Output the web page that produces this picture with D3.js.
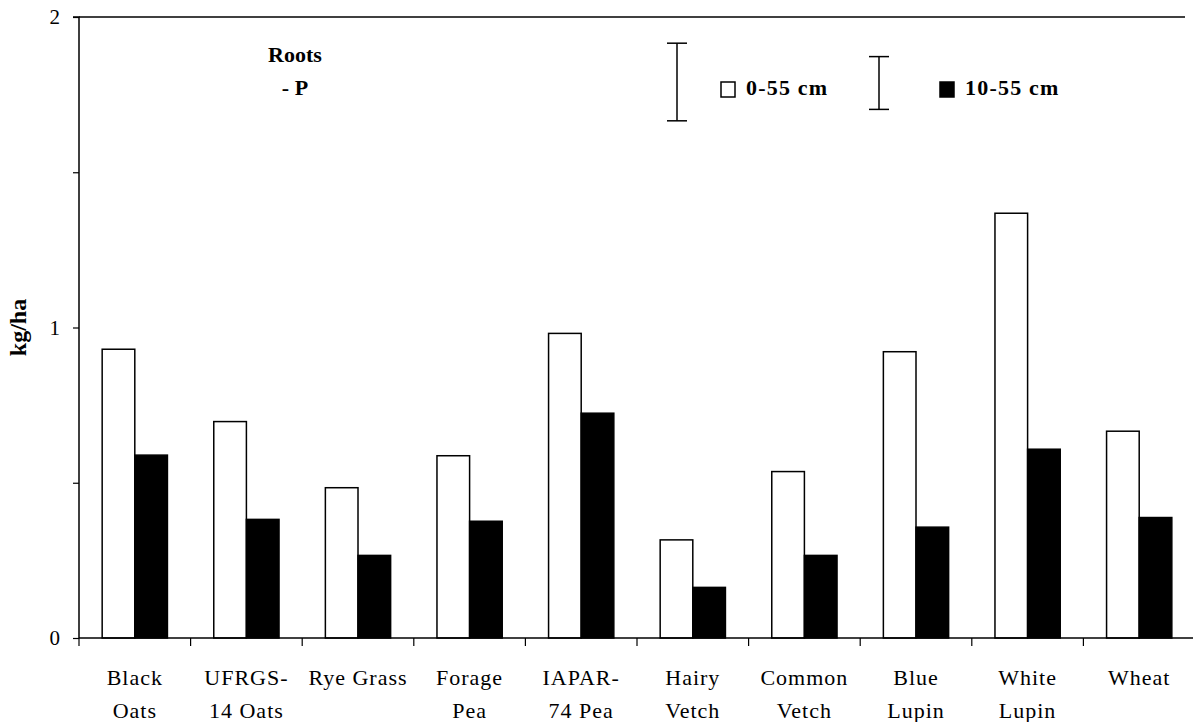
<!DOCTYPE html>
<html>
<head>
<meta charset="utf-8">
<script src="https://cdn.jsdelivr.net/npm/d3@7/dist/d3.min.js"></script>
<style>
  body { margin: 0; background: #fff; }
  svg { display: block; font-family: "Liberation Serif", "Times New Roman", serif; }
</style>
</head>
<body>
<svg id="chart" width="1193" height="722"></svg>
<script>
const categories = [
  ["Black", "Oats"], ["UFRGS-", "14 Oats"], ["Rye Grass"], ["Forage", "Pea"],
  ["IAPAR-", "74 Pea"], ["Hairy", "Vetch"], ["Common", "Vetch"], ["Blue", "Lupin"],
  ["White", "Lupin"], ["Wheat"]
];
const seriesNames = ["0-55 cm", "10-55 cm"];
const depth0_55 = [0.930, 0.697, 0.484, 0.587, 0.981, 0.316, 0.536, 0.922, 1.368, 0.666];
const depth10_55 = [0.589, 0.382, 0.266, 0.376, 0.724, 0.163, 0.266, 0.357, 0.608, 0.388];
const lsdValues = [0.25, 0.17];
const yTicks = [0, 0.5, 1, 1.5, 2];
const yTickLabels = ["0", "", "1", "", "2"];

(function () {
const svg = d3.select("#chart");
const mLeft = 79, mRight = 1195, mTop = 17, mBottom = 638;
const catKeys = categories.map(c => c.join(" "));

const x = d3.scaleBand().domain(catKeys).range([mLeft, mRight]).padding(0);
const x1 = d3.scaleBand().domain(seriesNames).range([0, x.bandwidth()]).paddingInner(0).paddingOuter(0.71);
const y = d3.scaleLinear().domain([0, 2]).range([mBottom, mTop]);

const rows = catKeys.map((k, i) => ({ key: k, vals: [depth0_55[i], depth10_55[i]] }));

// bars
const g = svg.append("g");
rows.forEach(r => {
  r.vals.forEach((v, j) => {
    const s = seriesNames[j];
    g.append("rect")
      .attr("x", x(r.key) + x1(s))
      .attr("y", y(v))
      .attr("width", x1.bandwidth())
      .attr("height", y(0) - y(v))
      .attr("fill", j === 0 ? "#fff" : "#000")
      .attr("stroke", "#000")
      .attr("stroke-width", 1.5);
  });
});

// y axis
const yAxis = d3.axisLeft(y).tickValues(yTicks).tickSize(6).tickFormat((d, i) => yTickLabels[i]);
const ya = svg.append("g").attr("transform", `translate(${mLeft},0)`).call(yAxis);
ya.select(".domain").attr("stroke", "#000").attr("stroke-width", 1.5).attr("d", `M-6,${mTop}H0V${mBottom}`);
ya.selectAll(".tick line").attr("stroke", "#000").attr("stroke-width", 1.2);
ya.selectAll(".tick text").attr("font-size", 21).attr("font-family", "Liberation Serif").attr("fill", "#000").attr("x", -19);

// top border
svg.append("line").attr("x1", mLeft).attr("x2", 1185).attr("y1", y(2)).attr("y2", y(2))
  .attr("stroke", "#000").attr("stroke-width", 1.5);

// x axis
const xAxis = d3.axisBottom(x).tickSize(0).tickFormat("");
const xa = svg.append("g").attr("transform", `translate(0,${mBottom})`).call(xAxis);
xa.select(".domain").attr("stroke", "#000").attr("stroke-width", 1.5).attr("d", `M${mLeft},0H${1193}`);
xa.selectAll(".tick").remove();
// boundary ticks
const bounds = catKeys.map(k => x(k));
svg.append("g").selectAll("line").data(bounds).join("line")
  .attr("x1", d => d).attr("x2", d => d).attr("y1", mBottom).attr("y2", mBottom + 8)
  .attr("stroke", "#000").attr("stroke-width", 1.2);

// category labels
categories.forEach((c, i) => {
  const cx = x(catKeys[i]) + x.bandwidth() / 2;
  c.forEach((line, li) => {
    svg.append("text").attr("x", cx).attr("y", 685 + li * 33)
      .attr("text-anchor", "middle").attr("font-size", 22).attr("letter-spacing", 1)
      .attr("fill", "#000").text(line);
  });
});

// y axis title
svg.append("text").attr("transform", `translate(26,${y(1)}) rotate(-90)`)
  .attr("text-anchor", "middle").attr("font-size", 24).attr("font-weight", "bold").text("kg/ha");

// annotation
svg.append("text").attr("x", 295).attr("y", 62).attr("text-anchor", "middle")
  .attr("font-size", 22).attr("font-weight", "bold").text("Roots");
svg.append("text").attr("x", 295).attr("y", 95).attr("text-anchor", "middle")
  .attr("font-size", 22).attr("font-weight", "bold").text("- P");

// legend with LSD bars
const legendItems = [
  { name: seriesNames[0], lsd: lsdValues[0], barX: 677, cy: 82, boxX: 721, fill: "#fff" },
  { name: seriesNames[1], lsd: lsdValues[1], barX: 879, cy: 83, boxX: 940, fill: "#000" }
];
legendItems.forEach(it => {
  const half = (y(0) - y(it.lsd)) / 2;
  const lg = svg.append("g").attr("stroke", "#000").attr("stroke-width", 1.5);
  lg.append("line").attr("x1", it.barX).attr("x2", it.barX).attr("y1", it.cy - half).attr("y2", it.cy + half);
  lg.append("line").attr("x1", it.barX - 10).attr("x2", it.barX + 10).attr("y1", it.cy - half).attr("y2", it.cy - half);
  lg.append("line").attr("x1", it.barX - 10).attr("x2", it.barX + 10).attr("y1", it.cy + half).attr("y2", it.cy + half);
  svg.append("rect").attr("x", it.boxX).attr("y", 82).attr("width", 14).attr("height", 15)
    .attr("fill", it.fill).attr("stroke", "#000").attr("stroke-width", 1.5);
  svg.append("text").attr("x", it.boxX + 25).attr("y", 95).attr("font-size", 22)
    .attr("font-weight", "bold").attr("letter-spacing", 1.2).text(it.name);
});
})();
</script>
</body>
</html>
